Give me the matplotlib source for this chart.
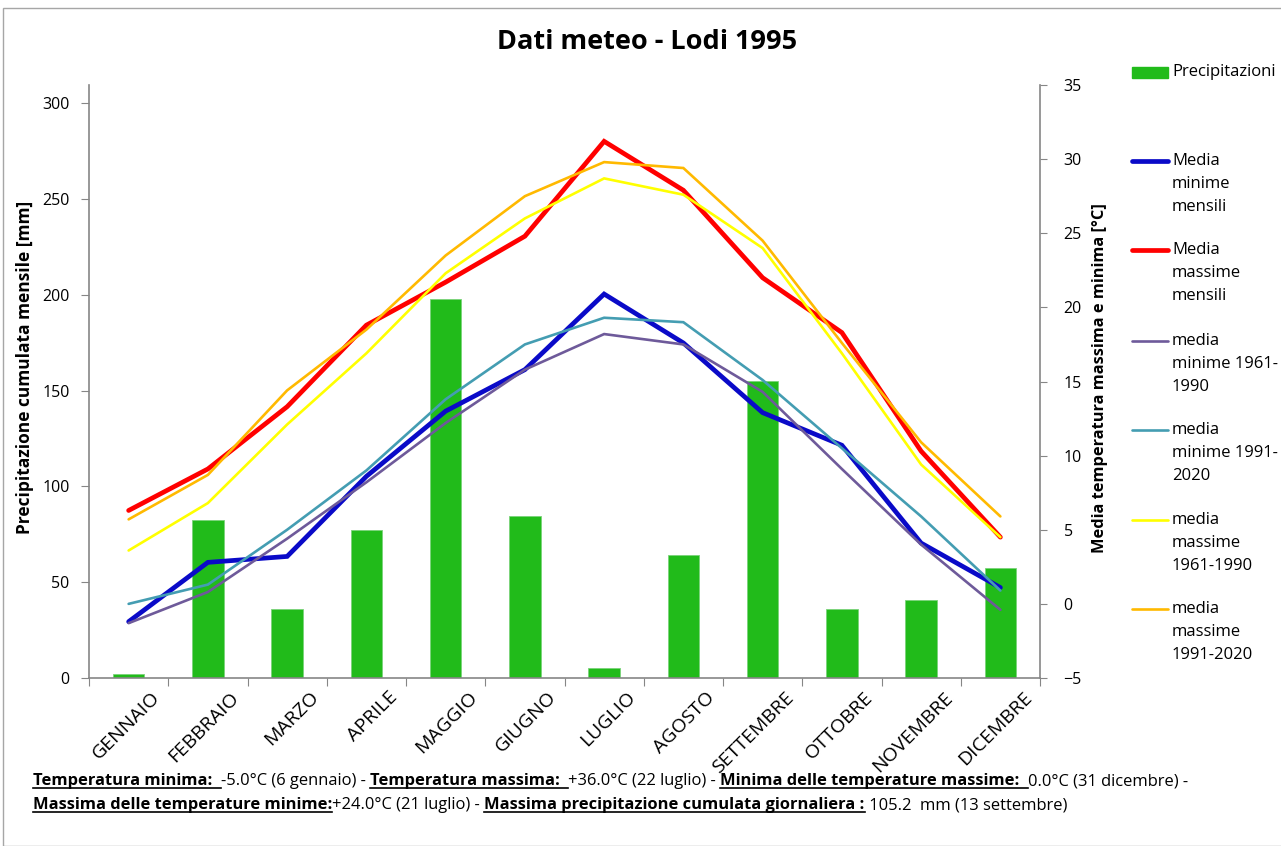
import matplotlib
matplotlib.use('Agg')
import matplotlib.pyplot as plt
from matplotlib.lines import Line2D
from matplotlib.patches import Rectangle
import numpy as np

mesi = ['GENNAIO', 'FEBBRAIO', 'MARZO', 'APRILE', 'MAGGIO', 'GIUGNO',
        'LUGLIO', 'AGOSTO', 'SETTEMBRE', 'OTTOBRE', 'NOVEMBRE', 'DICEMBRE']

# precipitazione cumulata mensile [mm]
precipitazioni = [2.3, 82.4, 35.8, 77.1, 197.7, 84.5, 5.2, 64.2, 155.1, 35.8, 40.7, 57.2]

# temperature medie [°C]
min_mensili = [-1.2, 2.8, 3.2, 8.6, 13.0, 15.8, 20.9, 17.6, 12.9, 10.7, 4.1, 1.1]
max_mensili = [6.3, 9.1, 13.3, 18.8, 21.7, 24.8, 31.2, 27.9, 22.0, 18.3, 10.3, 4.5]
min_6190 = [-1.3, 0.8, 4.4, 8.2, 12.2, 15.8, 18.2, 17.5, 14.3, 9.1, 4.0, -0.4]
min_9120 = [0.0, 1.3, 5.0, 9.0, 13.8, 17.5, 19.3, 19.0, 15.1, 10.5, 5.9, 0.9]
max_6190 = [3.6, 6.8, 12.1, 16.9, 22.3, 26.0, 28.7, 27.6, 24.0, 16.9, 9.4, 4.5]
max_9120 = [5.7, 8.7, 14.4, 18.5, 23.5, 27.5, 29.8, 29.4, 24.5, 17.6, 10.9, 5.9]

serie = [
    ('Media\nminime\nmensili', min_mensili, '#0a0ac8', 3.4),
    ('Media\nmassime\nmensili', max_mensili, '#ff0000', 3.4),
    ('media\nminime 1961-\n1990', min_6190, '#6e5a9a', 1.9),
    ('media\nminime 1991-\n2020', min_9120, '#449db2', 1.9),
    ('media\nmassime\n1961-1990', max_6190, '#ffff00', 1.9),
    ('media\nmassime\n1991-2020', max_9120, '#ffb900', 1.9),
]

plt.rcParams['font.family'] = ['Open Sans', 'DejaVu Sans']

W, H = 1281, 846
fig = plt.figure(figsize=(W / 100, H / 100), dpi=100)


def fx(px):
    return px / W


def fy(py):
    return 1 - py / H


grigio = '#868686'
ax = fig.add_axes([fx(89), fy(678), fx(1040) - fx(89), fy(85) - fy(678)])
x = np.arange(len(mesi))
ax.bar(x, precipitazioni, width=0.4, color='#21bb1a', edgecolor='#7ad37a', linewidth=0.6, zorder=2)
ax.set_xlim(-0.5, 11.5)
ax.set_ylim(0, 309.4)
ax.set_yticks(np.arange(0, 301, 50))
ax.set_xticks(np.arange(-0.5, 12, 1))
ax.set_xticklabels([])
# etichette dei mesi spostate a destra del centro della categoria
ax.set_xticks(x + 0.36, minor=True)
ax.set_xticklabels(mesi, minor=True, rotation=45, ha='right', va='center',
                   rotation_mode='anchor', fontsize=14)
ax.tick_params(axis='x', which='minor', length=0, pad=12)
ax.tick_params(axis='x', which='major', length=6, color=grigio)
ax.tick_params(axis='y', length=6, color=grigio, labelsize=11.5, pad=8)

ax2 = ax.twinx()
for nome, valori, colore, lw in serie:
    ax2.plot(x, valori, color=colore, lw=lw, solid_joinstyle='miter', solid_capstyle='round')
ax2.set_ylim(-5, 35)
ax2.set_yticks(np.arange(-5, 36, 5))
ax2.tick_params(axis='y', length=5, color=grigio, labelsize=11.5, pad=12)

for a in (ax, ax2):
    a.spines['top'].set_visible(False)
    for s in a.spines.values():
        s.set_color(grigio)
        s.set_linewidth(1.2)
ax.spines['right'].set_visible(False)
ax2.spines['left'].set_visible(False)
ax2.spines['bottom'].set_visible(False)

fig.text(fx(647), fy(42), 'Dati meteo - Lodi 1995', ha='center', va='center',
         fontsize=19.5, fontweight='bold')
fig.text(fx(25), fy(367), 'Precipitazione cumulata mensile [mm]', rotation=90,
         ha='center', va='center', fontsize=12.5, fontweight='bold')
fig.text(fx(1100), fy(378), 'Media temperatura massima e minima [°C]', rotation=90,
         ha='center', va='center', fontsize=11.8, fontweight='bold')

# legenda a destra del grafico
fig.add_artist(Rectangle((fx(1132), fy(78)), fx(36), fy(67) - fy(78), color='#21bb1a'))
fig.text(fx(1172), fy(72), 'Precipitazioni', va='center', fontsize=12)
riga_y = [161, 250, 341, 430, 520, 609]
for (nome, valori, colore, lw), py in zip(serie, riga_y):
    fig.add_artist(Line2D([fx(1132), fx(1168)], [fy(py), fy(py)], color=colore,
                          lw=lw, solid_capstyle='round'))
    fig.text(fx(1172), fy(py - 8), nome, va='top', fontsize=12, linespacing=1.58)

# note in fondo con le parti sottolineate
righe = [
    [('Temperatura minima:  ', True), ('-5.0°C (6 gennaio) - ', False),
     ('Temperatura massima:  ', True), ('+36.0°C (22 luglio) - ', False),
     ('Minima delle temperature massime:  ', True), ('0.0°C (31 dicembre) -', False)],
    [('Massima delle temperature minime:', True), ('+24.0°C (21 luglio) - ', False),
     ('Massima precipitazione cumulata giornaliera :', True), (' 105.2  mm (13 settembre)', False)],
]
renderer = fig.canvas.get_renderer()
for riga, base in zip(righe, [785, 809]):
    px = 33
    for testo, sott in riga:
        t = fig.text(fx(px), fy(base), testo, va='baseline', fontsize=11.85,
                     fontweight='bold' if sott else 'normal')
        bb = t.get_window_extent(renderer)
        if sott:
            fig.add_artist(Line2D([fx(px), fx(px + bb.width)], [fy(base + 3), fy(base + 3)],
                                  color='black', lw=1.2))
        px += bb.width

fig.add_artist(Rectangle((fx(3), 0), 1.0, fy(8), fill=False, edgecolor='#a6a6a6', lw=1))

fig.savefig('out.png', dpi=100)
